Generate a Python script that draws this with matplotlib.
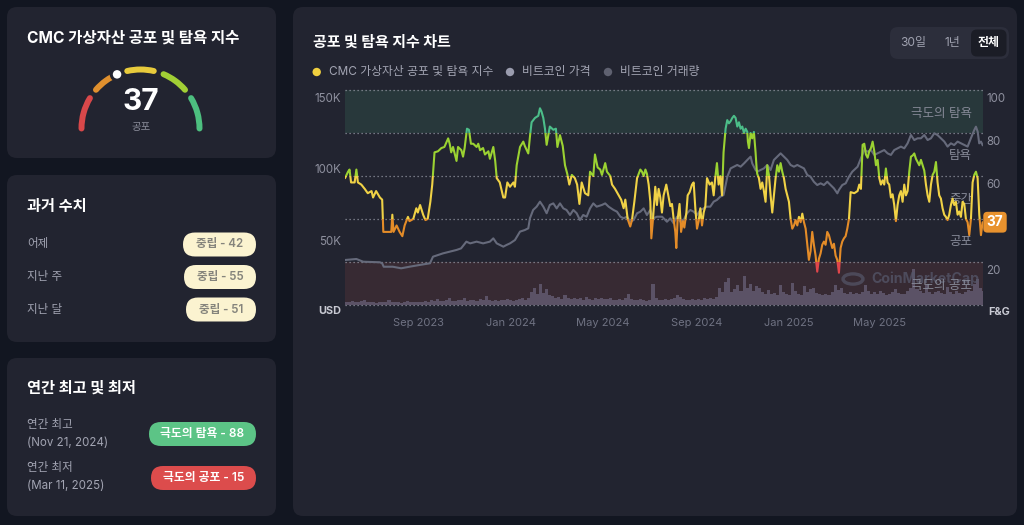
import numpy as np
import pandas as pd
import matplotlib
matplotlib.use('Agg')
import matplotlib.pyplot as plt
from matplotlib.patches import FancyBboxPatch, Rectangle, Arc, Circle
from matplotlib.transforms import blended_transform_factory, ScaledTranslation

plt.rcParams['font.family'] = ['Inter', 'Noto Sans CJK KR', 'DejaVu Sans']

# ------------------------------------------------------------------ data
start_date = '2023-05-27'

fg_day = [0, 4, 6, 8, 12.7, 15, 17, 21.5, 26, 30, 35, 37, 41, 46, 49, 50.5, 57, 61, 62.4, 64,
          68, 72, 75.6, 78.6, 83, 85, 90, 94, 96, 99, 103, 106, 109, 112.5, 115, 118, 122.6, 127,
          131, 136, 138, 140, 142.4, 147, 149, 153.4, 155.6, 157.7, 160.8, 163.4,
          166, 169, 173.5, 175.7, 178, 182, 184.5, 189, 191, 195.5, 198, 200, 204, 208.7, 211,
          214, 217.5, 222, 224, 226.3, 230.7, 235, 237, 241.6, 244, 246, 250.4, 254.8, 257, 259,
          261.4, 263.6, 265.8, 270, 274.6, 278, 280, 283.4, 287, 290, 293, 295.7, 299, 303, 306,
          309, 312, 316.4, 320.7, 323, 327.3, 329.5,
          333, 336.5, 338.7, 343, 345.3, 349.7, 352, 356, 360.7, 364, 367.3, 369.5, 372.6, 376,
          378.3, 381.4, 385, 389.3, 391.5, 393.7, 396, 398, 400.3, 402.5, 403.8, 406, 409, 411.2,
          413.4, 415.6, 417.8, 420, 423.5, 426.6, 428.8, 431, 433.2, 435.4, 436.7, 438.5, 441,
          443, 445.5, 447.3, 450, 451.7, 454.3, 457.4, 459.6, 461.8, 464, 466.2, 468.4, 470.6,
          472.8, 475, 477.2, 480.7, 483.7, 486, 488, 490.3, 492.5, 494.7, 497, 499,
          501.7, 503.9, 506.1, 508.3, 510.5, 512.7, 514.9, 517.1, 519.3, 521.5, 523.7, 525.9,
          528.1, 530.3, 531.1, 532.5, 534.7, 536.8, 539, 541.2, 542.6, 543.4, 545.6, 547.8, 550,
          552.2, 554.4, 556.6, 558.8, 561, 563.2, 565.4, 567.6, 569.8, 572, 574.2, 576.4, 578.6,
          580.8, 583, 585.2, 587.4, 589.6, 591.8, 594, 596.2, 598.4, 600.6, 602.8, 605, 607.2,
          609.4, 611.5, 613.7, 615.9, 618.1, 620.3, 622.5, 624.7, 626.9, 629.1, 631.3, 633.5,
          635.7, 637.9, 640.1, 642.3, 644.5, 646.7, 648.9, 651.1, 653.3, 655.5, 657.7, 659.9,
          662.1, 664.3, 666.5,
          671.3, 675.7, 677.9, 680.1, 682.3, 684.5, 686.7, 688.9, 691.1, 693.3, 695.5, 697.7,
          699.9, 702.1, 704.3, 706.4, 708.6, 710.8, 713, 715.2, 717.4, 719.6, 721.8, 724, 726.2,
          728.4, 730.6, 732.8, 735, 737.2, 739.4, 741.6, 743.8, 746, 748.2, 750.4, 752.6, 754.8,
          757, 759.2, 761.4, 763.6, 765.8, 768, 770.2, 772.4, 774.6, 776.8, 779, 781.1, 783.3,
          785.5, 787.7, 789.9, 792.1, 794.3, 796.5, 798.7, 800.9, 803.1, 805.3, 807.5, 809.7,
          811.9, 814.1, 816.3, 818.5, 820.7, 822.9, 825.1, 827.3, 829.5, 831.7, 833.9, 836.1,
          838.3, 840.5]
fg_value = [59, 62, 63, 57, 57, 63, 57, 56, 54, 52, 53, 50, 53, 50, 49, 34, 34, 34, 42, 34,
            37, 34, 32, 37, 41, 39, 40, 45, 43, 46.5, 42, 39.5, 40, 48, 56, 71, 71.5, 73,
            73.5, 77.5, 75, 71, 73.5, 67, 73.5, 72, 69, 73, 82, 81.5,
            75, 75, 73.5, 75, 72, 73, 70, 71.5, 68, 73.5, 67, 59, 57, 50, 50,
            57, 55, 57, 55, 65, 73.5, 76, 74, 70.5, 79, 85, 87, 88, 91.5, 90,
            87, 82, 74.5, 83, 81.5, 82, 73.5, 79, 74, 65, 61, 56, 60.5, 59, 56,
            47, 57, 52, 51, 62, 60, 70,
            64, 63, 60.5, 66, 62, 60, 56, 54, 51, 49, 45, 49, 40, 36.5,
            39.5, 48, 59, 63, 62, 60, 63, 61, 56, 48, 31, 40, 55, 46.5,
            54, 50, 43, 51, 56, 50, 46, 47, 40, 34, 26.5, 40, 47,
            34, 39, 36, 43, 51, 52.5, 56, 57, 45, 35.5, 39, 45, 37,
            43, 46, 59, 56, 57, 51, 59, 66, 56, 60, 51, 71,
            82, 86, 84.5, 85.5, 87, 88, 87, 83, 85, 82, 83, 80,
            82, 80.5, 76, 73, 80, 77.5, 80.5, 71, 63.5, 61, 59, 54, 57,
            53, 48, 65, 60.5, 51, 43, 51, 59, 65, 62, 66, 62, 59,
            54, 51, 48, 40, 35.5, 37, 39.5, 37, 41, 38.5, 42.5, 38.5, 35.5,
            28, 21, 25, 34, 28, 23, 15.5, 21.5, 24, 28, 29.5, 28,
            34, 32.5, 29.5, 26.5, 28.5, 23, 21, 15, 26.5, 29.5, 31, 32,
            35.5, 40, 52.5,
            52, 53, 56, 54, 74.5, 75, 70, 68.5, 71.5, 73, 76, 71.5,
            65, 67.5, 59, 56, 58, 56, 63.5, 57, 56, 50, 51.5, 46.5, 39,
            46.5, 51, 53, 48, 56, 51, 53, 62, 69, 69.5, 70.5, 68, 66.5,
            65, 67.5, 65, 62.5, 56, 51, 48, 56, 60.5, 62, 66.5, 57, 51,
            49.5, 45, 42, 41, 39.5, 42, 46.5, 49.5, 46.5, 48, 42, 43.5,
            41, 48, 47, 40, 38.5, 32.5, 40, 57, 60.5, 62, 59, 42,
            32.5, 38.5]

price_day = [0, 15, 24, 46, 49, 51, 63, 74, 85, 98, 112, 116, 123, 129, 138, 147, 153, 160,
             165, 173.5, 182, 191, 195.5, 200, 208.7, 213, 217.5, 224, 230.7, 237, 241.6, 243.8,
             248, 252.6, 257, 261.4, 265.8, 270, 274.6, 279, 283.4, 287.8, 292, 296.6, 301,
             305.4, 309.7, 314, 318.5, 323, 327.3, 331.7, 338.7, 343, 347.5, 354, 358.5, 363,
             367.3, 371.7, 376, 380.5, 385, 389.3, 393.7, 398, 402.5, 407, 411, 418, 424.4,
             428.8, 433.2, 437.6, 442, 446.4, 450.8, 455.2, 459.6, 464, 468.4, 472.8, 477.2,
             481.5, 486, 490.3, 494.7, 499, 504, 508.3, 512.7, 517, 521.5, 526, 530.3, 534.7,
             536.8, 541.2, 543.4, 547.8, 552.2, 556.6, 561, 565.4, 569.8, 574.2, 578.6, 583,
             587.4, 591.8, 596.2, 600.6, 605, 609.4, 613.7, 618, 622.5, 627, 631.3, 635.7, 640,
             644.5, 649, 651, 655.5, 660, 664.3, 668.7, 675.7, 680, 684.5, 689, 693.3, 697.7,
             702, 706.4, 710.8, 715.2, 719.6, 724, 728.4, 732.8, 737.2, 741.6, 746, 750.4,
             754.8, 759.2, 763.6, 768, 772.4, 776.8, 781, 785.5, 790, 794.3, 798.7, 803, 807.5,
             812, 816.3, 820.7, 825, 829.5, 831.7, 834, 836, 838.3, 840.5]
price_k = [31.4, 32.1, 30.2, 29.8, 29.1, 26.7, 26.7, 25.6, 26.7, 27.9, 29.1, 33.7, 34.9, 36.0,
           37.2, 38.4, 39.5, 44.2, 43.0, 44.2, 43.0, 44.2, 46.5, 43.0, 40.7, 41.9, 43.0, 45.3,
           51.2, 52.3, 53.5, 60.5, 66.3, 68.6, 72.1, 68.6, 64.0, 69.8, 70.9, 67.4, 70.9, 67.4,
           66.3, 62.8, 66.3, 64.0, 59.3, 62.8, 61.6, 67.4, 70.9, 68.6, 69.8, 70.9, 68.6, 66.3,
           65.1, 61.6, 60.5, 61.6, 58.1, 59.3, 64.0, 65.1, 67.4, 62.8, 66.3, 60.5, 61.6, 61.6,
           58.1, 60.5, 57.0, 61.6, 58.1, 59.3, 64.0, 66.3, 65.1, 62.8, 66.3, 67.4, 68.6, 68.6,
           72.1, 73.3, 75.6, 76.7, 89.5, 95.3, 96.5, 97.7, 96.5, 98.8, 101.2, 103.5, 98.8, 94.2,
           93.0, 94.2, 95.3, 97.7, 94.2, 101.2, 103.5, 105.8, 103.5, 101.2, 97.7, 96.5, 97.7,
           96.5, 95.3, 90.7, 89.5, 86.0, 83.7, 84.9, 83.7, 86.0, 83.7, 81.4, 77.9, 80.2, 83.7,
           84.9, 89.5, 93.0, 96.5, 102.3, 108.1, 107.0, 108.1, 104.7, 105.8, 107.0, 108.1,
           105.8, 104.7, 108.1, 109.3, 110.5, 109.3, 112.8, 118.6, 115.1, 116.3, 116.3, 118.6,
           115.1, 116.3, 119.8, 118.6, 116.3, 114.0, 110.5, 112.8, 111.6, 114.0, 112.8, 111.6,
           110.5, 116.3, 122.1, 124.4, 120.9, 112.8, 114.0, 111.6]

volume_step_days = 4
volume_bn = [12, 10, 14, 11, 9, 13, 18, 10, 9, 11, 8, 10, 12, 9, 16, 10, 9, 11, 8, 10, 13, 9, 11,
             10, 12, 9, 14, 11,
             18, 14, 22, 15, 13, 17, 24, 15, 14, 19, 16, 23, 15, 17,
             17, 15, 20, 16, 30, 18, 15, 17, 14, 19, 16, 22, 18, 15, 17, 20, 24, 19, 26,
             45, 60, 38, 75, 42, 55, 35,
             30, 24, 28, 22, 34, 25, 21, 26, 20, 23, 19, 27, 22, 18, 24, 20, 26,
             22, 20, 25, 19, 18, 21, 17, 24, 38, 22, 18, 16, 20, 17, 15, 19, 72, 24, 18, 16, 20,
             17, 22, 26, 35, 28, 22, 19, 17, 20, 16, 22, 18, 24, 20, 23, 21, 28,
             60, 45, 80,
             95, 45, 55, 70, 48, 100, 60, 75, 50, 65, 58, 45, 40, 52, 38, 42, 36, 70, 45, 40, 35,
             78, 48, 40, 36, 65, 45, 55, 58, 42, 38, 35, 40, 36, 45, 70, 52, 60, 42, 38, 45, 40,
             42, 38, 45, 70, 48, 40, 44, 38, 50, 42, 36, 40, 46, 55, 42, 38, 40, 48, 60, 125, 55,
             48, 42, 70, 45, 40, 44, 50, 42, 38, 62, 45, 40, 48, 42, 38, 45, 52, 48, 75, 90, 60,
             50]

gauge_value = 37
gauge_label = '공포'
fg_bands = [0, 20, 40, 60, 80, 100]
fg_band_colors = ['#e0464b', '#e48c28', '#f0d246', '#9bd232', '#4cbe89']
gauge_colors = ['#d9484a', '#e0902e', '#e8cb3c', '#a1cf35', '#4dbf7f']
zone_labels = ['극도의 공포', '공포', '중간', '탐욕', '극도의 탐욕']

history_labels = ['어제', '지난 주', '지난 달']
history_class = ['중립', '중립', '중립']
history_values = [42, 55, 51]

yearly_labels = ['연간 최고', '연간 최저']
yearly_dates = ['(Nov 21, 2024)', '(Mar 11, 2025)']
yearly_class = ['극도의 탐욕', '극도의 공포']
yearly_values = [88, 15]

price_ticks = [50, 100, 150]
price_tick_labels = ['50K', '100K', '150K']
fg_ticks = [20, 60, 80, 100]          # the 40 label sits under the current-value tag
month_ticks = ['2023-09-01', '2024-01-01', '2024-05-01', '2024-09-01', '2025-01-01', '2025-05-01']
month_tick_labels = ['Sep 2023', 'Jan 2024', 'May 2024', 'Sep 2024', 'Jan 2025', 'May 2025']
range_buttons = ['30일', '1년', '전체']
legend_labels = ['CMC 가상자산 공포 및 탐욕 지수', '비트코인 가격', '비트코인 거래량']
legend_colors = ['#f0cf3f', '#9a9cae', '#5f6170']

# ------------------------------------------------------------------ derived dates
t0 = pd.Timestamp(start_date)
fg_dates = t0 + pd.to_timedelta(fg_day, unit='D')
price_dates = t0 + pd.to_timedelta(price_day, unit='D')
vol_dates = pd.date_range(t0, periods=len(volume_bn), freq=f'{volume_step_days}D')

# ------------------------------------------------------------------ figure
W, H = 1024, 525
OUTER = '#121621'
PANEL = '#222430'
fig = plt.figure(figsize=(W / 100, H / 100), dpi=100, facecolor=OUTER)

bg = fig.add_axes([0, 0, 1, 1])
bg.set_xlim(0, W)
bg.set_ylim(H, 0)
bg.axis('off')


def rbox(x0, y0, x1, y1, r, fc, z=1):
    bg.add_patch(FancyBboxPatch((x0 + r, y0 + r), x1 - x0 - 2 * r, y1 - y0 - 2 * r,
                                boxstyle=f'round,pad={r},rounding_size={r}',
                                fc=fc, ec='none', zorder=z))


def txt(x, y, s, size, color, weight='normal', ha='left', va='center', z=3):
    return bg.text(x, y, s, fontsize=size, color=color, fontweight=weight,
                   ha=ha, va=va, zorder=z)


# panels
rbox(7, 7, 276, 158, 10, PANEL)
rbox(7, 175, 276, 342, 10, PANEL)
rbox(7, 358, 276, 516, 10, PANEL)
rbox(293, 7, 1017, 516, 10, PANEL)

TITLE = '#ffffff'
LABEL = '#a3a5b3'

# ---- panel 1: gauge
txt(27, 38, 'CMC 가상자산 공포 및 탐욕 지수', 11.2, TITLE, 'bold')
gax = fig.add_axes([70.5 / W, (H - 198.5) / H, 140 / W, 140 / H])
gax.set_xlim(-70, 70)
gax.set_ylim(-70, 70)
gax.axis('off')
R = 59
for i, c in enumerate(gauge_colors):
    hi_ang = 180 - 180 * fg_bands[i] / 100
    lo_ang = 180 - 180 * fg_bands[i + 1] / 100
    a1 = lo_ang + (5 if i < 4 else 0)
    a2 = hi_ang - (5 if i > 0 else 0)
    arc = Arc((0, 0), 2 * R, 2 * R, theta1=a1, theta2=a2, color=c, lw=4.3)
    arc.set_capstyle('round')
    gax.add_patch(arc)
ang = np.deg2rad(180 - 180 * gauge_value / 100)
gax.add_patch(Circle((R * np.cos(ang), R * np.sin(ang)), 5.8, fc='white', ec=PANEL, lw=2.2, zorder=5))
gax.text(0.5, 26, str(gauge_value), fontsize=21.5, fontweight='bold', color='white',
         ha='center', va='center')
gax.text(0.5, 1.5, gauge_label, fontsize=7.5, color='#8a8c99', ha='center', va='center')

# ---- panel 2: history
txt(27, 207, '과거 수치', 11, TITLE, 'bold')
pill_w = [73, 72, 70]
for i, (lab, cls, val) in enumerate(zip(history_labels, history_class, history_values)):
    y = 244.5 + i * 32.5
    txt(27, y, lab, 8.3, LABEL)
    rbox(256 - pill_w[i], y - 12, 256, y + 12, 12, '#fbf3d0', z=2)
    txt(256 - pill_w[i] / 2, y, f'{cls} - {val}', 8.3, '#85847c', 'semibold', ha='center')

# ---- panel 3: yearly
txt(27, 388, '연간 최고 및 최저', 11, TITLE, 'bold')
ypill_w = [107, 105]
ypill_c = ['#5cc486', '#dc4c4c']
for i in range(2):
    y0 = 425 + i * 43.5
    txt(27, y0, yearly_labels[i], 8.3, LABEL)
    txt(27, y0 + 17.5, yearly_dates[i], 8.3, LABEL)
    yc = 434 + i * 44
    rbox(256 - ypill_w[i], yc - 12, 256, yc + 12, 12, ypill_c[i], z=2)
    txt(256 - ypill_w[i] / 2, yc, f'{yearly_class[i]} - {yearly_values[i]}', 8.5, 'white',
        'semibold', ha='center')

# ---- right panel header
txt(313, 42.5, '공포 및 탐욕 지수 차트', 10.8, TITLE, 'bold')
leg_x = [316.7, 510, 608]
for x, lab, c in zip(leg_x, legend_labels, legend_colors):
    bg.add_patch(Circle((x, 72), 4.2, fc=c, ec='none', zorder=3))
    txt(x + 12.5, 72, lab, 8.5, LABEL)

rbox(890, 27, 1009, 59, 8, '#2c2e3b', z=2)
rbox(971, 29.5, 1006.5, 56.5, 6, '#1b1d26', z=2)
btn_x = [912.7, 952, 989]
for j, (x, lab) in enumerate(zip(btn_x, range_buttons)):
    txt(x, 43, lab, 8.6, 'white' if j == 2 else '#a0a2b0', 'semibold' if j == 2 else 'normal',
        ha='center')

# ------------------------------------------------------------------ chart axes
rect = [345 / W, (H - 305) / H, 638 / W, 215 / H]
x0 = t0
x1 = t0 + pd.Timedelta(days=841)

ax_bg = fig.add_axes(rect)
ax_vol = fig.add_axes(rect, sharex=ax_bg)
ax_price = fig.add_axes(rect, sharex=ax_bg)
ax_fg = fig.add_axes(rect, sharex=ax_bg)
for a in (ax_bg, ax_vol, ax_price, ax_fg):
    a.patch.set_visible(False)
    for s in a.spines.values():
        s.set_visible(False)
    a.tick_params(length=0)
ax_bg.set_xlim(x0, x1)

# bands + grid
ax_bg.set_ylim(0, 100)
ax_bg.axhspan(80, 100, fc='#28383b', ec='none')
ax_bg.axhspan(0, 20, fc='#372a33', ec='none')
for v in fg_bands:
    ax_bg.axhline(v, color='#8d909c', lw=0.9, ls=(0, (1, 2.2)), clip_on=False)
ax_bg.set_yticks([])
ax_bg.tick_params(labelbottom=False)

# volume
ax_vol.set_ylim(0, 750)
ax_vol.bar(vol_dates, volume_bn, width=volume_step_days, align='edge', color='#5b5266',
           ec='none', zorder=1)
ax_vol.set_yticks([])
ax_vol.tick_params(labelbottom=False)

# zone labels & watermark (drawn above volume, below the lines)
zb = blended_transform_factory(ax_bg.transAxes, ax_bg.transData)
for i, lab in enumerate(zone_labels):
    yc = (fg_bands[i] + fg_bands[i + 1]) / 2
    ax_vol.annotate(lab, xy=(1, yc), xycoords=zb, xytext=(-11, -2), textcoords='offset pixels',
                    ha='right', va='center', fontsize=9, color='#878a98', zorder=3)
fig.patches.append(Circle((853 / W, (H - 279) / H), 10 / W, transform=fig.transFigure,
                          fc='none', ec='#55576a', lw=2.4, alpha=0.7, zorder=2))
ax_vol.text((871 - 345) / 638, (305 - 279) / 215, 'CoinMarketCap', transform=ax_vol.transAxes,
            fontsize=10.2, fontweight='bold', color='#55576a', alpha=0.75, ha='left',
            va='center', zorder=2)

# price
ax_price.set_ylim(0, 150)
ax_price.plot(price_dates, price_k, color='#666a7b', lw=1.5, solid_joinstyle='round')
ax_price.set_yticks(price_ticks)
ax_price.set_yticklabels(price_tick_labels)
ax_price.tick_params(axis='y', labelsize=8.3, labelcolor='#8e909e', pad=3)
ax_price.tick_params(labelbottom=False)

# fear & greed line, coloured by band
ax_fg.set_ylim(0, 100)
ybt = blended_transform_factory(ax_fg.transAxes, ax_fg.transData)
for i, c in enumerate(fg_band_colors):
    lo = fg_bands[i] if i > 0 else -20
    hi = fg_bands[i + 1] if i < 4 else 120
    ln, = ax_fg.plot(fg_dates, fg_value, color=c, lw=1.5, solid_joinstyle='round',
                     solid_capstyle='round')
    ln.set_clip_path(Rectangle((0, lo), 1, hi - lo, transform=ybt))
ax_fg.yaxis.tick_right()
ax_fg.set_yticks(fg_ticks)
ax_fg.set_yticklabels([str(v) for v in fg_ticks])
ax_fg.tick_params(axis='y', labelsize=8.3, labelcolor='#8e909e', pad=2.5)
ax_fg.set_xticks(pd.to_datetime(month_ticks))
ax_fg.set_xticklabels(month_tick_labels)
ax_fg.tick_params(axis='x', labelsize=8, labelcolor='#6f7282', pad=9)

# y tick labels sit a little below their value line
shift = ScaledTranslation(0, -7 / 100, fig.dpi_scale_trans)
for t in list(ax_price.get_yticklabels()) + list(ax_fg.get_yticklabels()):
    t.set_transform(t.get_transform() + shift)

ax_fg.annotate(str(gauge_value), xy=(1, fg_value[-1]), xycoords=ybt, xytext=(12, 0),
               textcoords='offset pixels', ha='center', va='center', fontsize=9.8,
               fontweight='bold', color='white', annotation_clip=False, zorder=10,
               bbox=dict(boxstyle='round,pad=0.25,rounding_size=0.3', fc='#e8922e', ec='none'))

txt(341, 311, 'USD', 7.8, '#c9cad3', 'bold', ha='right')
txt(988, 312, 'F&G', 7.8, '#c9cad3', 'bold', ha='left')

fig.savefig('out.png', dpi=100, facecolor=OUTER)
